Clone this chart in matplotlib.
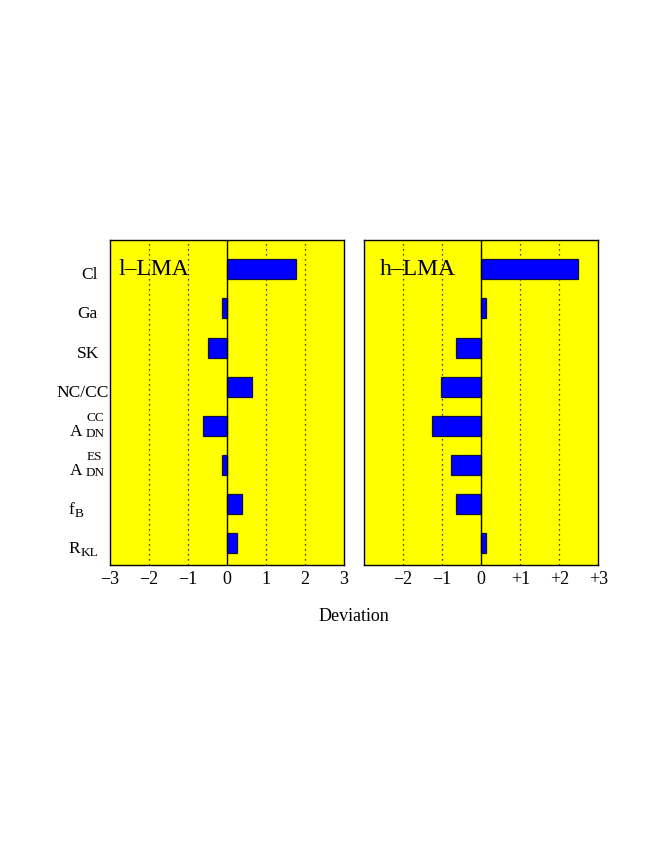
import matplotlib
matplotlib.use("Agg")
import matplotlib.pyplot as plt
from matplotlib import transforms

plt.rcParams['font.family'] = ['Liberation Serif', 'DejaVu Serif']

# observables, top to bottom: (main, subscript, superscript)
label_main = ['Cl', 'Ga', 'SK', 'NC/CC', 'A', 'A', 'f', 'R']
label_sub = ['', '', '', '', 'DN', 'DN', 'B', 'KL']
label_sup = ['', '', '', '', 'CC', 'ES', '', '']
low_lma = [1.77, -0.12, -0.50, 0.64, -0.62, -0.12, 0.39, 0.26]
high_lma = [2.49, 0.12, -0.64, -1.02, -1.27, -0.77, -0.64, 0.12]

left_ticks = [-3, -2, -1, 0, 1, 2, 3]
left_ticklabels = ['\u22123', '\u22122', '\u22121', '0', '1', '2', '3']
right_ticks = [-2, -1, 0, 1, 2, 3]
right_ticklabels = ['\u22122', '\u22121', '0', '+1', '+2', '+3']

# left edge of each row label, in axes fraction (hand placed in the original)
label_x = [-0.125, -0.142, -0.141, -0.228, -0.170, -0.170, -0.179, -0.179]

fig = plt.figure(figsize=(6.64, 8.6), dpi=100)
ax1 = fig.add_axes([0.1657, 0.343, 0.3524, 0.378])
ax2 = fig.add_axes([0.5482, 0.343, 0.3529, 0.378])

pos = list(range(len(label_main)))
for ax, vals, name, tx, ticks, tlabels in [
        (ax1, low_lma, 'l\u2013LMA', 0.035, left_ticks, left_ticklabels),
        (ax2, high_lma, 'h\u2013LMA', 0.065, right_ticks, right_ticklabels)]:
    ax.set_facecolor('#ffff00')
    for g in [-2, -1, 1, 2]:
        ax.axvline(g, color='black', linestyle=(0, (1, 3)), linewidth=0.9, zorder=1)
    ax.axvline(0, color='black', linewidth=1.0, zorder=3)
    ax.barh(pos, vals, height=0.51, color='#0000ff', edgecolor='#101040',
            linewidth=0.9, zorder=2)
    ax.set_xlim(-3, 3)
    ax.set_ylim(7.55, -0.75)
    ax.set_xticks(ticks)
    ax.set_xticklabels(tlabels, fontsize=13)
    ax.set_yticks([])
    ax.tick_params(length=0, pad=4)
    ax.text(tx, 0.893, name, transform=ax.transAxes, fontsize=17)
    for s in ax.spines.values():
        s.set_linewidth(1.0)

# row labels with sub/superscripts, drawn as separate texts
trans = ax1.get_yaxis_transform()
base = transforms.offset_copy(trans, fig=fig, x=0, y=-10, units='dots')
mains = []
for i in pos:
    t = ax1.text(label_x[i], pos[i], label_main[i], transform=base,
                 ha='left', va='baseline', fontsize=12.5, clip_on=False)
    mains.append(t)

fig.canvas.draw()
renderer = fig.canvas.get_renderer()
for i in pos:
    if not label_sub[i] and not label_sup[i]:
        continue
    bb = mains[i].get_window_extent(renderer)
    gap = 3 if label_sup[i] else 1
    drop = 1 if label_sup[i] else 3
    xa = ax1.transAxes.inverted().transform((bb.x1 + gap, 0))[0]
    sub_tr = transforms.offset_copy(trans, fig=fig, x=0, y=-10 - drop, units='dots')
    ax1.text(xa, pos[i], label_sub[i], transform=sub_tr, ha='left',
             va='baseline', fontsize=9.5, clip_on=False)
    if label_sup[i]:
        xs = ax1.transAxes.inverted().transform((bb.x1 + gap + 1, 0))[0]
        sup_tr = transforms.offset_copy(trans, fig=fig, x=0, y=5, units='dots')
        ax1.text(xs, pos[i], label_sup[i], transform=sup_tr, ha='left',
                 va='baseline', fontsize=9.5, clip_on=False)

fig.text(0.533, 0.283, 'Deviation', ha='center', va='center', fontsize=13)

fig.savefig('out.png', dpi=100)
